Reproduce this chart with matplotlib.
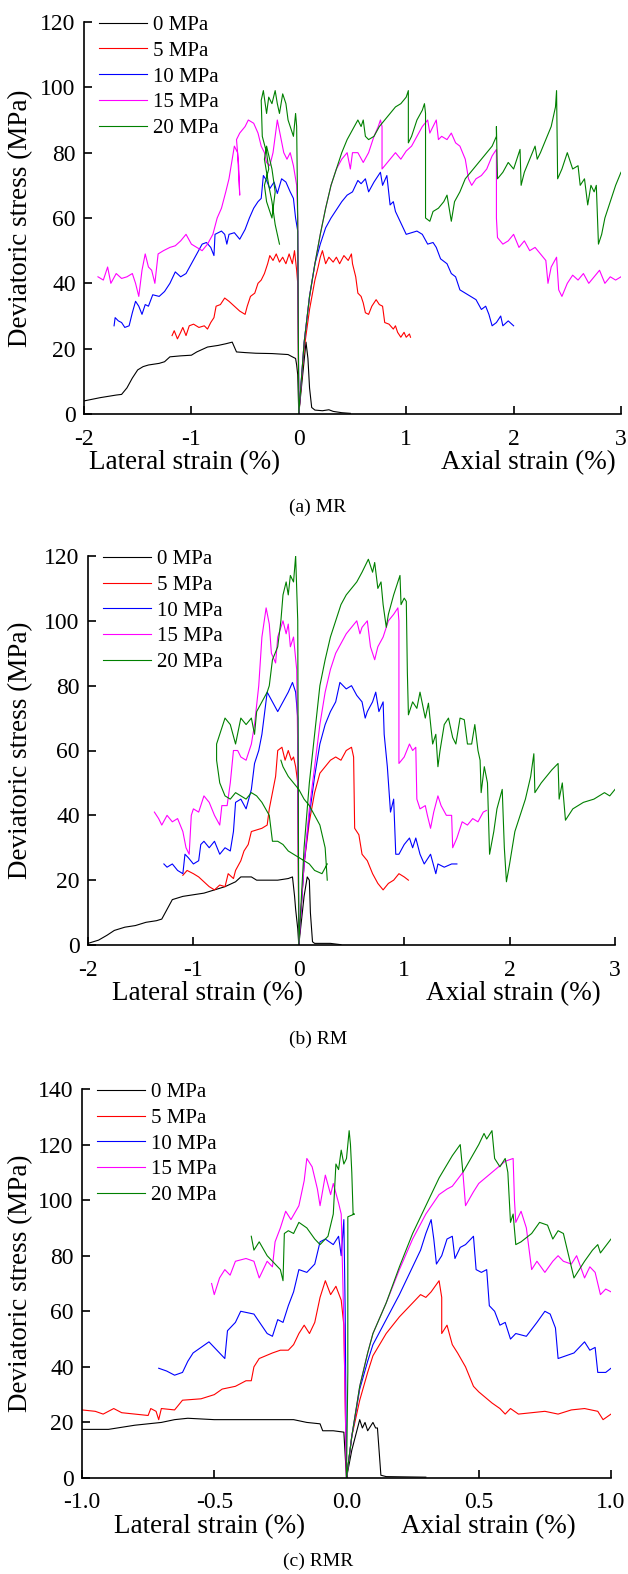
import numpy as np
import matplotlib
matplotlib.use("Agg")
import matplotlib.pyplot as plt

plt.rcParams['font.family'] = ['Liberation Serif', 'DejaVu Serif']
plt.rcParams['axes.unicode_minus'] = False

labels = ['0 MPa', '5 MPa', '10 MPa', '15 MPa', '20 MPa']
colors = ['#000000', '#ff0000', '#0000ff', '#ff00ff', '#008000']
captions = ['(a) MR', '(b) RM', '(c) RMR']

# courbes (deformation, contrainte) : laterale (x<0) puis axiale (x>0)
mr_0 = np.array([(-2.0, 4), (-1.85, 5), (-1.7, 5.8), (-1.65, 6), (-1.6, 8), (-1.55, 11), (-1.5, 13.5),
                 (-1.45, 14.5), (-1.4, 15), (-1.3, 15.5), (-1.25, 16), (-1.2, 17.5), (-1.1, 17.8),
                 (-1.0, 18), (-0.95, 19), (-0.85, 20.5), (-0.75, 21), (-0.68, 21.5), (-0.62, 22),
                 (-0.58, 19), (-0.5, 18.8), (-0.4, 18.6), (-0.25, 18.5), (-0.1, 18.2), (-0.06, 17.5),
                 (-0.03, 17), (-0.02, 15), (-0.01, 12), (0, 0), (0.03, 10), (0.067, 22), (0.085, 17),
                 (0.1, 8), (0.12, 2), (0.15, 1.2), (0.22, 1.0), (0.28, 1.3), (0.32, 0.8), (0.4, 0.4),
                 (0.48, 0.2)])
mr_5 = np.array([(-1.18, 24), (-1.16, 25.5), (-1.13, 23), (-1.1, 25), (-1.08, 26.5), (-1.05, 24),
                 (-1.02, 27), (-0.98, 27.5), (-0.93, 26.5), (-0.88, 27), (-0.85, 26), (-0.82, 28),
                 (-0.79, 29.5), (-0.77, 33), (-0.73, 33.5), (-0.69, 35.5), (-0.65, 34.5), (-0.6, 33),
                 (-0.55, 31.5), (-0.5, 30.5), (-0.48, 33), (-0.45, 36), (-0.41, 37), (-0.38, 40),
                 (-0.35, 41), (-0.32, 43), (-0.29, 46), (-0.27, 48.5), (-0.24, 47), (-0.21, 49),
                 (-0.18, 46.5), (-0.15, 48), (-0.12, 46), (-0.09, 49), (-0.06, 46), (-0.04, 50),
                 (-0.02, 44), (-0.01, 40), (0, 0),
                 (0.05, 20), (0.1, 32), (0.15, 41), (0.18, 45), (0.2, 48), (0.22, 50), (0.25, 46),
                 (0.28, 48), (0.32, 46.5), (0.35, 48), (0.38, 46), (0.42, 48.5), (0.46, 47), (0.49, 49),
                 (0.5, 46), (0.53, 42), (0.55, 37), (0.58, 36), (0.6, 34), (0.62, 31), (0.65, 30.5),
                 (0.68, 33), (0.72, 35), (0.75, 33.5), (0.78, 33), (0.8, 28), (0.84, 27.5), (0.88, 26),
                 (0.9, 27), (0.92, 25), (0.95, 23.5), (0.98, 25), (1.0, 23.5), (1.03, 24.5), (1.04, 23.5)])
mr_10 = np.array([(-1.72, 27), (-1.71, 29.5), (-1.68, 28.5), (-1.65, 28), (-1.62, 26.5), (-1.58, 27),
                  (-1.55, 31), (-1.52, 34.5), (-1.49, 33), (-1.46, 30.5), (-1.43, 33.5), (-1.4, 33),
                  (-1.36, 36.5), (-1.3, 36), (-1.25, 37.5), (-1.2, 40), (-1.15, 43.5), (-1.1, 42),
                  (-1.05, 43), (-1.0, 46), (-0.95, 49), (-0.9, 52), (-0.86, 52.5), (-0.82, 51),
                  (-0.79, 48.5), (-0.78, 55), (-0.72, 56), (-0.69, 55), (-0.67, 52), (-0.65, 55),
                  (-0.6, 55.5), (-0.55, 53.5), (-0.5, 56.5), (-0.46, 60), (-0.42, 63), (-0.38, 65),
                  (-0.35, 66), (-0.33, 73), (-0.3, 71.5), (-0.27, 69), (-0.23, 71), (-0.2, 67.5),
                  (-0.16, 72), (-0.12, 71), (-0.08, 68), (-0.05, 66), (-0.03, 60), (-0.01, 56), (0, 0),
                  (0.05, 22), (0.1, 36), (0.15, 46), (0.2, 52), (0.25, 57), (0.3, 60), (0.35, 62.5),
                  (0.4, 65), (0.45, 67), (0.5, 68), (0.55, 71.5), (0.58, 70.5), (0.62, 72), (0.65, 68),
                  (0.7, 71), (0.76, 74), (0.78, 70), (0.82, 73), (0.85, 64), (0.88, 65), (0.9, 62),
                  (0.95, 58.5), (1.0, 55), (1.05, 55.5), (1.1, 56), (1.15, 55), (1.2, 52), (1.25, 52.5),
                  (1.28, 51), (1.32, 47.5), (1.38, 46), (1.42, 43), (1.46, 42), (1.5, 38), (1.55, 37),
                  (1.6, 36), (1.65, 35), (1.7, 32), (1.74, 33), (1.77, 30.5), (1.8, 27), (1.84, 28),
                  (1.88, 30), (1.9, 27), (1.95, 28.5), (2.0, 27)])
mr_15 = np.array([(-1.87, 42), (-1.82, 41), (-1.78, 45), (-1.75, 40), (-1.7, 43), (-1.65, 41.5),
                  (-1.6, 42), (-1.55, 43), (-1.52, 40), (-1.49, 36), (-1.46, 44), (-1.43, 49), (-1.4, 45),
                  (-1.37, 44), (-1.34, 40), (-1.31, 49), (-1.26, 50), (-1.2, 51), (-1.15, 51.5),
                  (-1.1, 53), (-1.05, 55), (-1.0, 52), (-0.95, 51), (-0.9, 50), (-0.85, 52), (-0.8, 55),
                  (-0.76, 60), (-0.72, 63), (-0.68, 68), (-0.65, 72), (-0.62, 78), (-0.6, 82),
                  (-0.57, 80), (-0.55, 67), (-0.56, 76), (-0.58, 84), (-0.55, 86), (-0.5, 88),
                  (-0.47, 90), (-0.42, 89), (-0.38, 86), (-0.35, 82), (-0.32, 80), (-0.3, 77),
                  (-0.27, 76), (-0.24, 80), (-0.2, 90), (-0.17, 85), (-0.14, 80), (-0.11, 78),
                  (-0.08, 80), (-0.05, 76), (-0.02, 70), (-0.01, 60), (0, 0),
                  (0.05, 22), (0.1, 36), (0.15, 46), (0.2, 55), (0.25, 63), (0.3, 70), (0.35, 75),
                  (0.4, 78), (0.45, 80), (0.48, 75), (0.5, 80), (0.55, 80), (0.6, 77), (0.65, 80),
                  (0.7, 85), (0.74, 88), (0.76, 90), (0.775, 88), (0.775, 75), (0.8, 76), (0.85, 78),
                  (0.9, 80), (0.95, 78), (1.0, 80.5), (1.05, 82), (1.1, 85), (1.15, 88), (1.2, 90),
                  (1.22, 86), (1.28, 90), (1.3, 84), (1.33, 85), (1.38, 84), (1.42, 86), (1.46, 83),
                  (1.5, 82), (1.55, 78), (1.58, 72), (1.61, 70), (1.65, 72), (1.7, 73), (1.75, 75),
                  (1.8, 79), (1.84, 81), (1.84, 60), (1.85, 54), (1.9, 52), (1.95, 53), (2.0, 55),
                  (2.05, 51), (2.1, 53), (2.15, 50), (2.2, 51), (2.25, 49), (2.3, 47), (2.32, 40),
                  (2.35, 45), (2.4, 48), (2.42, 38), (2.45, 36), (2.5, 40), (2.55, 42.5), (2.6, 41),
                  (2.65, 43), (2.7, 40), (2.75, 42), (2.8, 44), (2.85, 40), (2.9, 42), (2.95, 41),
                  (3.0, 42)])
mr_20 = np.array([(-0.18, 52), (-0.2, 55), (-0.22, 58), (-0.25, 65), (-0.28, 70), (-0.32, 78),
                  (-0.3, 82), (-0.25, 75), (-0.22, 68), (-0.25, 60), (-0.3, 65), (-0.32, 70),
                  (-0.28, 75), (-0.3, 80), (-0.34, 85), (-0.35, 96), (-0.33, 99), (-0.3, 92),
                  (-0.28, 97), (-0.25, 95), (-0.22, 99), (-0.2, 95), (-0.18, 92), (-0.15, 98),
                  (-0.12, 95), (-0.1, 90), (-0.08, 88), (-0.05, 85), (-0.03, 92), (-0.02, 88),
                  (-0.01, 60), (0, 0),
                  (0.05, 22), (0.1, 36), (0.15, 46), (0.2, 55), (0.25, 63), (0.3, 70), (0.35, 75),
                  (0.4, 80), (0.45, 84), (0.5, 87), (0.55, 90), (0.58, 88), (0.6, 90), (0.62, 85),
                  (0.65, 84), (0.7, 85), (0.75, 88), (0.8, 90), (0.85, 92), (0.9, 94), (0.95, 95),
                  (1.0, 97), (1.02, 99), (1.02, 83), (1.05, 85), (1.1, 90), (1.15, 93), (1.17, 95),
                  (1.18, 92), (1.18, 60), (1.22, 59), (1.25, 62), (1.3, 63), (1.35, 65), (1.38, 67),
                  (1.42, 59), (1.45, 65), (1.5, 68), (1.55, 72), (1.6, 74), (1.65, 76), (1.7, 78),
                  (1.75, 80), (1.8, 82), (1.84, 85), (1.84, 88), (1.85, 72), (1.9, 74), (1.95, 77),
                  (2.0, 75), (2.06, 81), (2.07, 70), (2.1, 74), (2.15, 78), (2.2, 82), (2.22, 78),
                  (2.25, 80), (2.3, 84), (2.35, 88), (2.39, 94), (2.4, 99), (2.41, 72), (2.45, 75),
                  (2.5, 80), (2.55, 75), (2.6, 76), (2.62, 70), (2.66, 72), (2.69, 64), (2.72, 70),
                  (2.75, 68), (2.77, 70), (2.79, 52), (2.82, 55), (2.85, 60), (2.9, 65), (2.95, 70),
                  (3.0, 74)])

rm_0 = np.array([(-2.0, 0.5), (-1.9, 1.5), (-1.82, 3), (-1.75, 4.5), (-1.65, 5.5), (-1.55, 6),
                 (-1.45, 7), (-1.35, 7.5), (-1.3, 8), (-1.25, 11), (-1.2, 14), (-1.1, 15), (-1.0, 15.5),
                 (-0.9, 16), (-0.8, 17), (-0.7, 18), (-0.6, 19.5), (-0.55, 21), (-0.45, 21), (-0.4, 20),
                 (-0.3, 20), (-0.2, 20), (-0.1, 20.5), (-0.06, 21), (-0.04, 15), (-0.03, 11),
                 (-0.01, 5), (0, 0), (0.05, 15), (0.08, 21), (0.1, 20), (0.11, 10), (0.13, 1),
                 (0.15, 0.5), (0.3, 0.5), (0.35, 0.3), (0.4, 0.1)])
rm_5 = np.array([(-1.1, 21.5), (-1.06, 23), (-1.0, 22), (-0.95, 21), (-0.9, 19.5), (-0.85, 18),
                 (-0.8, 17), (-0.75, 18.5), (-0.7, 18), (-0.67, 22), (-0.62, 20.5), (-0.6, 23),
                 (-0.55, 26), (-0.52, 29), (-0.48, 31), (-0.45, 35), (-0.4, 35.5), (-0.35, 36),
                 (-0.3, 37), (-0.28, 42), (-0.25, 47), (-0.22, 52), (-0.2, 60), (-0.16, 61),
                 (-0.13, 57), (-0.1, 60), (-0.07, 57), (-0.05, 58), (-0.03, 55), (-0.01, 50), (0, 0),
                 (0.05, 25), (0.1, 38), (0.15, 47), (0.2, 53), (0.25, 55), (0.3, 57), (0.35, 58),
                 (0.4, 57), (0.45, 60), (0.5, 61), (0.52, 58), (0.53, 36), (0.57, 34), (0.6, 28),
                 (0.65, 26), (0.7, 22), (0.75, 19), (0.8, 17), (0.85, 19), (0.9, 20), (0.95, 22),
                 (1.0, 21), (1.04, 20)])
rm_10 = np.array([(-1.28, 25), (-1.25, 24), (-1.2, 25), (-1.15, 23), (-1.1, 22), (-1.08, 28),
                  (-1.05, 27), (-1.0, 25), (-0.95, 26), (-0.93, 31), (-0.9, 32), (-0.85, 30),
                  (-0.8, 32), (-0.75, 28), (-0.7, 30), (-0.65, 29), (-0.62, 35), (-0.6, 44),
                  (-0.55, 45), (-0.5, 42), (-0.45, 48), (-0.42, 56), (-0.38, 60), (-0.35, 65),
                  (-0.3, 78), (-0.25, 75), (-0.2, 72), (-0.15, 75), (-0.1, 78), (-0.06, 81),
                  (-0.03, 78), (-0.01, 70), (0, 0),
                  (0.05, 25), (0.1, 40), (0.15, 52), (0.2, 62), (0.25, 68), (0.3, 72), (0.35, 75),
                  (0.39, 81), (0.45, 79), (0.5, 80), (0.55, 77), (0.6, 75), (0.63, 70), (0.65, 72),
                  (0.7, 75), (0.73, 78), (0.76, 72), (0.8, 75), (0.81, 65), (0.84, 55), (0.87, 41),
                  (0.9, 45), (0.92, 28), (0.95, 28), (1.0, 31), (1.05, 33), (1.08, 30), (1.11, 33),
                  (1.15, 28), (1.19, 25), (1.25, 28), (1.3, 22), (1.32, 25), (1.38, 24), (1.45, 25),
                  (1.5, 25)])
rm_15 = np.array([(-1.37, 41), (-1.33, 39), (-1.3, 37), (-1.25, 40), (-1.2, 38), (-1.15, 39),
                  (-1.1, 35), (-1.07, 30), (-1.04, 28), (-1.02, 40), (-1.0, 42), (-0.95, 41),
                  (-0.9, 46), (-0.85, 44), (-0.8, 40), (-0.75, 37), (-0.73, 43), (-0.68, 43),
                  (-0.65, 50), (-0.62, 60), (-0.58, 60), (-0.55, 58), (-0.5, 57), (-0.45, 62),
                  (-0.42, 68), (-0.38, 80), (-0.35, 95), (-0.31, 104), (-0.28, 99), (-0.26, 90),
                  (-0.22, 87), (-0.2, 95), (-0.15, 100), (-0.12, 96), (-0.1, 99), (-0.08, 92),
                  (-0.05, 95), (-0.02, 85), (-0.01, 60), (0, 0),
                  (0.05, 25), (0.1, 42), (0.15, 55), (0.2, 68), (0.25, 78), (0.3, 85), (0.35, 90),
                  (0.4, 93), (0.45, 96), (0.5, 98), (0.55, 100), (0.58, 96), (0.6, 98), (0.65, 100),
                  (0.68, 92), (0.7, 90), (0.72, 88), (0.75, 92), (0.8, 95), (0.85, 100), (0.9, 102),
                  (0.94, 104), (0.95, 100), (0.95, 56), (1.0, 58), (1.05, 62), (1.08, 60), (1.11, 61),
                  (1.12, 45), (1.15, 42), (1.2, 43), (1.22, 40), (1.25, 36), (1.28, 41), (1.32, 46),
                  (1.35, 43), (1.4, 40), (1.45, 40), (1.46, 30), (1.5, 33), (1.55, 38), (1.6, 37),
                  (1.65, 39), (1.7, 38), (1.75, 41), (1.78, 41.5)])
rm_20 = np.array([(0.27, 20), (0.25, 30), (0.2, 37), (0.15, 40), (0.1, 43), (0.05, 45), (0.0, 48),
                  (-0.05, 50), (-0.1, 52), (-0.15, 55), (-0.17, 57), (np.nan, np.nan),
                  (0.27, 25), (0.22, 22), (0.15, 23), (0.1, 25), (0.05, 26), (0.0, 27), (-0.05, 28),
                  (-0.1, 29), (-0.15, 31), (-0.2, 32), (-0.25, 32), (-0.28, 40), (-0.35, 44),
                  (-0.4, 46), (-0.45, 47), (-0.5, 45), (-0.55, 46), (-0.6, 47), (-0.65, 45),
                  (-0.7, 46), (-0.75, 50), (-0.78, 57), (-0.78, 62), (-0.75, 65), (-0.7, 70),
                  (-0.65, 68), (-0.6, 62), (-0.55, 70), (-0.5, 68), (-0.45, 70), (-0.42, 65),
                  (-0.4, 72), (-0.35, 75), (-0.3, 78), (-0.28, 80), (-0.25, 88), (-0.2, 92),
                  (-0.17, 100), (-0.15, 108), (-0.12, 112), (-0.1, 108), (-0.08, 114), (-0.05, 112),
                  (-0.03, 120), (-0.02, 110), (-0.01, 100), (0, 0),
                  (0.05, 30), (0.1, 50), (0.15, 65), (0.2, 80), (0.25, 88), (0.3, 95), (0.35, 100),
                  (0.4, 105), (0.45, 108), (0.5, 110), (0.55, 112), (0.6, 115), (0.66, 119),
                  (0.7, 115), (0.72, 118), (0.75, 110), (0.78, 112), (0.8, 105), (0.83, 98),
                  (0.85, 102), (0.9, 108), (0.96, 114), (0.97, 105), (1.0, 107), (1.02, 106),
                  (1.03, 84), (1.04, 71), (1.08, 75), (1.12, 73), (1.15, 78), (1.2, 70), (1.23, 74.6),
                  (1.27, 62), (1.3, 65), (1.32, 55), (1.34, 60), (1.38, 68), (1.42, 70), (1.46, 64),
                  (1.49, 62), (1.53, 70), (1.57, 69.5), (1.6, 62), (1.64, 62), (1.67, 68), (1.7, 60),
                  (1.72, 57), (1.73, 47), (1.76, 55), (1.79, 50), (1.81, 28), (1.85, 35), (1.88, 42),
                  (1.93, 48), (1.95, 30), (1.97, 19.5), (2.0, 25), (2.05, 35), (2.1, 40), (2.15, 45),
                  (2.2, 52), (2.23, 59), (2.24, 47), (2.3, 50), (2.4, 54), (2.46, 56), (2.47, 45),
                  (2.5, 50), (2.53, 38.5), (2.6, 42), (2.7, 44), (2.8, 45), (2.9, 47), (2.95, 46),
                  (3.0, 48)])

rmr_0 = np.array([(-1.0, 17.5), (-0.9, 17.5), (-0.8, 19), (-0.7, 20), (-0.65, 21), (-0.6, 21.5),
                  (-0.5, 21), (-0.4, 21), (-0.3, 21), (-0.2, 21), (-0.15, 20), (-0.1, 19.5),
                  (-0.09, 17), (-0.05, 17), (-0.01, 16.5), (0, 0), (0.02, 10), (0.05, 21), (0.06, 18),
                  (0.07, 20), (0.08, 17), (0.1, 20), (0.11, 18), (0.117, 18), (0.13, 1), (0.15, 0.5),
                  (0.3, 0.3)])
rmr_5 = np.array([(-1.0, 24.5), (-0.95, 24), (-0.92, 23), (-0.88, 25), (-0.85, 23.5), (-0.8, 23),
                  (-0.75, 22.5), (-0.74, 25), (-0.72, 24), (-0.71, 21), (-0.7, 25), (-0.65, 24.5),
                  (-0.62, 28), (-0.55, 28.5), (-0.5, 30), (-0.47, 32), (-0.42, 33), (-0.38, 35),
                  (-0.36, 35), (-0.35, 40), (-0.33, 43), (-0.28, 45), (-0.25, 46), (-0.22, 46),
                  (-0.2, 48), (-0.18, 52), (-0.16, 55), (-0.14, 52), (-0.12, 56), (-0.1, 65),
                  (-0.08, 71), (-0.06, 66), (-0.04, 69), (-0.02, 64), (-0.01, 55), (0, 0),
                  (0.02, 15), (0.05, 28), (0.08, 38), (0.1, 44), (0.15, 52), (0.2, 58), (0.25, 63),
                  (0.28, 66), (0.3, 65), (0.32, 67), (0.35, 71), (0.36, 65), (0.36, 52), (0.38, 55),
                  (0.4, 48), (0.42, 45), (0.45, 40), (0.48, 33), (0.5, 31), (0.55, 27), (0.58, 25),
                  (0.6, 23), (0.62, 25), (0.65, 23), (0.7, 23.5), (0.75, 24), (0.8, 23), (0.85, 24.5),
                  (0.9, 25), (0.95, 24), (0.97, 21), (1.0, 23)])
rmr_10 = np.array([(-0.71, 39.5), (-0.68, 38.5), (-0.65, 37), (-0.62, 38), (-0.6, 42), (-0.58, 45),
                   (-0.55, 47), (-0.52, 49), (-0.5, 47), (-0.48, 45), (-0.46, 43), (-0.45, 53),
                   (-0.42, 56), (-0.4, 60), (-0.35, 59), (-0.3, 52), (-0.28, 51), (-0.26, 57),
                   (-0.24, 56), (-0.22, 62), (-0.2, 67), (-0.18, 75), (-0.15, 74), (-0.12, 77),
                   (-0.1, 85), (-0.08, 86), (-0.05, 84), (-0.03, 87), (-0.02, 80), (-0.01, 93),
                   (-0.005, 60), (0, 0),
                   (0.02, 15), (0.05, 32), (0.08, 42), (0.1, 48), (0.15, 57), (0.2, 66), (0.25, 76),
                   (0.28, 82), (0.3, 88), (0.32, 93), (0.33, 86), (0.34, 77), (0.36, 80), (0.38, 86),
                   (0.4, 87), (0.41, 79), (0.43, 83), (0.45, 84), (0.47, 86), (0.48, 87), (0.49, 75),
                   (0.51, 74), (0.53, 75), (0.54, 62), (0.56, 60), (0.58, 55), (0.6, 56), (0.62, 50),
                   (0.64, 52), (0.68, 51), (0.72, 56), (0.75, 60), (0.77, 59), (0.79, 54), (0.8, 43),
                   (0.83, 44), (0.86, 45), (0.9, 49), (0.92, 46), (0.94, 47), (0.95, 38), (0.98, 38),
                   (1.0, 39.5)])
rmr_15 = np.array([(-0.51, 70), (-0.5, 66), (-0.48, 72), (-0.46, 75), (-0.44, 73), (-0.42, 78),
                   (-0.38, 79), (-0.35, 78), (-0.33, 72), (-0.3, 78), (-0.28, 76), (-0.27, 85),
                   (-0.25, 90), (-0.23, 96), (-0.21, 93), (-0.18, 98), (-0.16, 107), (-0.15, 115),
                   (-0.13, 112), (-0.11, 104), (-0.1, 98), (-0.08, 109), (-0.06, 102), (-0.05, 106),
                   (-0.03, 99), (-0.02, 95), (-0.01, 55), (0, 0),
                   (0.02, 15), (0.05, 33), (0.08, 45), (0.1, 52), (0.15, 63), (0.2, 75), (0.25, 86),
                   (0.3, 95), (0.35, 102), (0.38, 104), (0.4, 105), (0.44, 110), (0.45, 98),
                   (0.48, 103), (0.5, 106), (0.55, 110), (0.6, 114), (0.63, 115), (0.635, 100),
                   (0.64, 92), (0.66, 96), (0.68, 90), (0.7, 75), (0.72, 78), (0.75, 74), (0.78, 78),
                   (0.8, 80), (0.82, 78), (0.85, 77), (0.87, 80), (0.9, 72), (0.92, 76), (0.94, 74),
                   (0.96, 66), (0.98, 68), (1.0, 67)])
rmr_20 = np.array([(-0.36, 87), (-0.35, 82), (-0.33, 85), (-0.3, 80), (-0.28, 78), (-0.25, 75),
                   (-0.24, 71), (-0.235, 88), (-0.22, 89), (-0.2, 88), (-0.18, 92), (-0.15, 90),
                   (-0.12, 86), (-0.1, 84), (-0.07, 87), (-0.05, 95), (-0.04, 113), (-0.03, 111),
                   (-0.02, 118), (-0.01, 113), (0.0, 115), (0.01, 125), (0.015, 120), (0.02, 110),
                   (0.025, 95), (0.03, 95), (0.005, 94), (0.005, 38), (0, 0),
                   (0.02, 15), (0.05, 33), (0.08, 45), (0.1, 52), (0.15, 63), (0.2, 76), (0.25, 88),
                   (0.3, 98), (0.35, 108), (0.4, 116), (0.43, 120), (0.44, 110), (0.47, 115),
                   (0.5, 120), (0.52, 124), (0.53, 122), (0.55, 125), (0.56, 115), (0.58, 112),
                   (0.6, 115), (0.61, 110), (0.62, 92), (0.63, 95), (0.64, 84), (0.66, 85), (0.7, 88),
                   (0.73, 92), (0.76, 91), (0.78, 86), (0.8, 89), (0.82, 88), (0.84, 80), (0.86, 72),
                   (0.88, 75), (0.9, 78), (0.93, 82), (0.95, 84), (0.96, 81), (1.0, 86)])

# position des axes en pixels (gauche, droite, haut, bas) et des titres d'axe
panels = [
    dict(curves=[mr_0, mr_5, mr_10, mr_15, mr_20], xlim=(-2, 3), xticks=np.arange(-2, 4, 1),
         ylim=(0, 120), yticks=np.arange(0, 140, 20), fmt='%d',
         px=(84, 621, 22, 414), xl=(185, 528), pad=10.5),
    dict(curves=[rm_0, rm_5, rm_10, rm_15, rm_20], xlim=(-2, 3), xticks=np.arange(-2, 4, 1),
         ylim=(0, 120), yticks=np.arange(0, 140, 20), fmt='%d',
         px=(88, 615, 556, 945), xl=(208, 513), pad=10.5),
    dict(curves=[rmr_0, rmr_5, rmr_10, rmr_15, rmr_20], xlim=(-1, 1), xticks=np.arange(-1, 1.5, 0.5),
         ylim=(0, 140), yticks=np.arange(0, 160, 20), fmt='%.1f',
         px=(82, 611, 1089, 1478), xl=(210, 488), pad=10),
]
caption_y = [507, 1039, 1561]

W, H = 628, 1574
fig = plt.figure(figsize=(W / 100, H / 100), dpi=100)

for p, cap, cy in zip(panels, captions, caption_y):
    l, r, t, b = p['px']
    ax = fig.add_axes([l / W, 1 - b / H, (r - l) / W, (b - t) / H])
    for data, c, lab in zip(p['curves'], colors, labels):
        ax.plot(data[:, 0], data[:, 1], color=c, lw=0.8, label=lab)
    ax.set_xlim(*p['xlim'])
    ax.set_ylim(*p['ylim'])
    ax.set_xticks(p['xticks'])
    ax.set_yticks(p['yticks'])
    ax.xaxis.set_major_formatter(matplotlib.ticker.FormatStrFormatter(p['fmt']))
    ax.spines['top'].set_visible(False)
    ax.spines['right'].set_visible(False)
    for s in ['left', 'bottom']:
        ax.spines[s].set_linewidth(1.2)
    ax.tick_params(direction='in', length=6, width=1.2, labelsize=17)
    ax.tick_params(axis='x', pad=p['pad'])
    ax.tick_params(axis='y', pad=6)
    ax.set_ylabel('Deviatoric stress (MPa)', fontsize=19.5)
    ax.yaxis.set_label_coords((33 - l) / (r - l), 0.5)
    fig.text(p['xl'][0] / W, 1 - (b + 49) / H, 'Lateral strain (%)', ha='center', va='center', fontsize=19.5)
    fig.text(p['xl'][1] / W, 1 - (b + 49) / H, 'Axial strain (%)', ha='center', va='center', fontsize=19.5)
    fig.text(318 / W, 1 - cy / H, cap, ha='center', va='center', fontsize=14)
    ax.legend(loc='upper left', bbox_to_anchor=(15 / (r - l), 1.017), frameon=False, fontsize=15,
              handlelength=2.3, handletextpad=0.3, labelspacing=0.3, borderpad=0,
              borderaxespad=0)

fig.savefig('out.png', dpi=100, facecolor='white')
